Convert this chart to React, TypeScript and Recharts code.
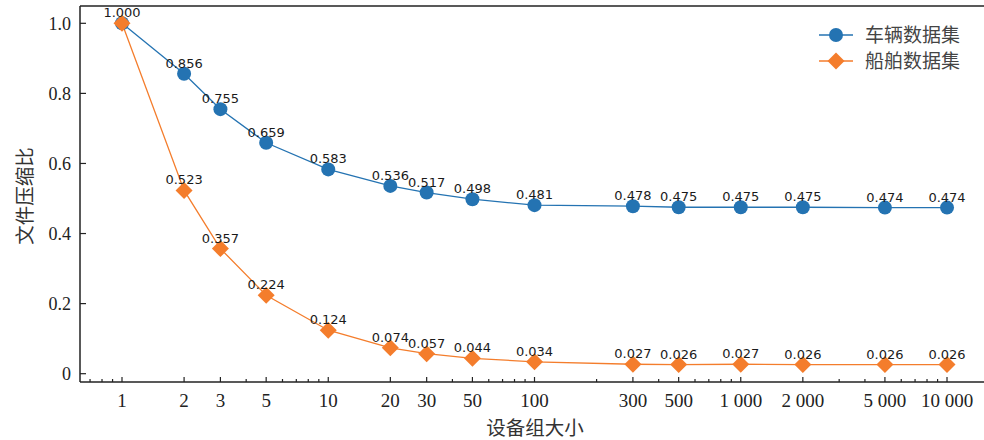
import React from "react";
import {
  LineChart, Line, XAxis, YAxis, ReferenceLine, Customized,
} from "recharts";

// group sizes and compression ratios for both datasets
const GROUP_SIZES = [1, 2, 3, 5, 10, 20, 30, 50, 100, 300, 500, 1000, 2000, 5000, 10000];
const VEHICLE_RATIO = [1.0, 0.856, 0.755, 0.659, 0.583, 0.536, 0.517, 0.498, 0.481, 0.478, 0.475, 0.475, 0.475, 0.474, 0.474];
const SHIP_RATIO = [1.0, 0.523, 0.357, 0.224, 0.124, 0.074, 0.057, 0.044, 0.034, 0.027, 0.026, 0.027, 0.026, 0.026, 0.026];

const X_LABELS = ["1", "2", "3", "5", "10", "20", "30", "50", "100", "300", "500", "1 000", "2 000", "5 000", "10 000"];
const Y_TICKS = [0, 0.2, 0.4, 0.6, 0.8, 1.0];
const SERIES_NAMES = ["车辆数据集", "船舶数据集"];

const BLUE = "#2473b2";
const ORANGE = "#f47d2c";
const AXIS = "#222";
const SERIF = "'Liberation Serif', 'Times New Roman', serif";
const CJK = "'Noto Sans CJK SC', sans-serif";
const LABEL_FONT = "'DejaVu Sans', sans-serif";

const X_DOMAIN: [number, number] = [0.6257, 16160];
const Y_DOMAIN: [number, number] = [-0.0237, 1.0494];

// minor ticks for every integer multiple within each decade
const minorTicks: number[] = [0.7, 0.8, 0.9];
[1, 10, 100, 1000].forEach((p) => {
  for (let m = 1; m <= 9; m++) minorTicks.push(m * p);
});
minorTicks.push(10000);

const labelFor = (v: number) => {
  const i = GROUP_SIZES.findIndex((g) => Math.abs(g - v) < 1e-9);
  return i >= 0 ? X_LABELS[i] : null;
};

const data = GROUP_SIZES.map((g, i) => ({
  size: g,
  vehicle: VEHICLE_RATIO[i],
  ship: SHIP_RATIO[i],
}));

const XTick = (props: any) => {
  const { x, y, payload } = props;
  const lbl = labelFor(payload.value);
  return (
    <g>
      <line x1={x} x2={x} y1={y} y2={y - (lbl ? 5 : 3)} stroke={AXIS} strokeWidth={1.2} />
      {lbl && (
        <text x={x} y={y + 25} textAnchor="middle" fontFamily={SERIF} fontSize={19} fill={AXIS}>
          {lbl}
        </text>
      )}
    </g>
  );
};

const YTick = (props: any) => {
  const { x, y, payload } = props;
  const v = payload.value as number;
  return (
    <g>
      <line x1={x} x2={x + 6} y1={y} y2={y} stroke={AXIS} strokeWidth={1.2} />
      <text x={x - 9} y={y} dy="0.35em" textAnchor="end" fontFamily={SERIF} fontSize={18} fill={AXIS}>
        {v === 0 ? "0" : v.toFixed(1)}
      </text>
    </g>
  );
};

const Diamond = (props: any) => {
  const { cx, cy, fill, size = 8.5 } = props;
  if (cx == null || cy == null) return null;
  return (
    <polygon
      points={`${cx},${cy - size} ${cx + size},${cy} ${cx},${cy + size} ${cx - size},${cy}`}
      fill={fill}
    />
  );
};

const valueLabel = (skipFirst: boolean) => (props: any) => {
  const { x, y, value, index } = props;
  if (skipFirst && index === 0) return null;
  return (
    <text key={`l-${index}`} x={x} y={y - 6} textAnchor="middle" fontFamily={LABEL_FONT} fontSize={13} fill="#1a1a1a">
      {Number(value).toFixed(3)}
    </text>
  );
};

const Titles = () => (
  <g>
    <text x={535} y={435} textAnchor="middle" fontFamily={CJK} fontSize={19.5} fill="#333">
      设备组大小
    </text>
    <text
      x={23}
      y={196}
      textAnchor="middle"
      dominantBaseline="central"
      transform="rotate(-90 23 196)"
      fontFamily={CJK}
      fontSize={19.5}
      fill="#333"
    >
      文件压缩比
    </text>
    {/* legend */}
    <line x1={819} x2={853} y1={35} y2={35} stroke={BLUE} strokeWidth={1.3} />
    <circle cx={836} cy={35} r={7} fill={BLUE} />
    <text x={865} y={35} dy="0.35em" fontFamily={CJK} fontSize={19} fill="#444">
      {SERIES_NAMES[0]}
    </text>
    <line x1={819} x2={853} y1={61} y2={61} stroke={ORANGE} strokeWidth={1.3} />
    <Diamond cx={836} cy={61} fill={ORANGE} />
    <text x={865} y={61} dy="0.35em" fontFamily={CJK} fontSize={19} fill="#444">
      {SERIES_NAMES[1]}
    </text>
  </g>
);

export default function App() {
  return (
    <div style={{ position: "absolute", left: 0, top: 0, width: 984, height: 440, overflow: "hidden", background: "#fff" }}>
      <LineChart width={1000} height={440} data={data} margin={{ top: 6, right: 10, bottom: 0, left: 0 }}>
        <XAxis
          dataKey="size"
          type="number"
          scale="log"
          domain={X_DOMAIN}
          allowDataOverflow
          ticks={minorTicks}
          interval={0}
          tick={<XTick />}
          tickLine={false}
          tickSize={0}
          tickMargin={0}
          height={58}
          axisLine={{ stroke: AXIS, strokeWidth: 1.5 }}
        />
        <YAxis
          type="number"
          domain={Y_DOMAIN}
          allowDataOverflow
          ticks={Y_TICKS}
          interval={0}
          tick={<YTick />}
          tickLine={false}
          tickSize={0}
          tickMargin={0}
          width={80}
          axisLine={{ stroke: AXIS, strokeWidth: 1.5 }}
        />
        <ReferenceLine y={Y_DOMAIN[1]} stroke={AXIS} strokeWidth={1.5} />
        <Line
          dataKey="vehicle"
          name={SERIES_NAMES[0]}
          type="linear"
          stroke={BLUE}
          strokeWidth={1.3}
          dot={{ r: 7, fill: BLUE, stroke: BLUE, strokeWidth: 0 }}
          activeDot={false}
          label={valueLabel(true)}
          isAnimationActive={false}
        />
        <Line
          dataKey="ship"
          name={SERIES_NAMES[1]}
          type="linear"
          stroke={ORANGE}
          strokeWidth={1.3}
          dot={<Diamond fill={ORANGE} />}
          activeDot={false}
          label={valueLabel(false)}
          isAnimationActive={false}
        />
        <Customized component={Titles} />
      </LineChart>
    </div>
  );
}
